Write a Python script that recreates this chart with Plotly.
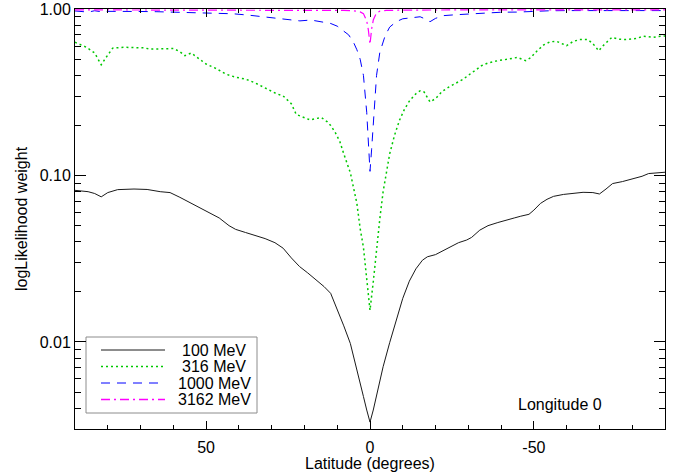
import math
import plotly.graph_objects as go

# ---------------- data ----------------
lat_100 = [90, 86, 84, 82, 80, 77, 72, 68, 64, 61, 58, 56, 53, 50, 46, 43, 41, 38, 35, 32, 29,
           26.5, 24, 21.5, 19, 16.5, 14, 12, 10, 8, 6, 4, 3, 2, 1, 0, -1, -2, -3, -4, -6, -8,
           -10, -12, -14, -16, -17.5, -20, -22, -24.5, -27, -29.5, -31, -33.5, -36, -39, -42,
           -44, -46, -48.5, -50, -52, -54, -56, -59, -62, -65, -68, -70, -72, -74, -77, -80,
           -83, -85, -88, -90]
w_100 = [0.0815, 0.080, 0.078, 0.0745, 0.079, 0.0823, 0.083, 0.0825, 0.080, 0.079, 0.074, 0.0705,
         0.066, 0.061, 0.0556, 0.050, 0.0475, 0.0455, 0.0435, 0.0418, 0.0395, 0.0366, 0.032,
         0.0284, 0.026, 0.0236, 0.0215, 0.0196, 0.0158, 0.0125, 0.0098, 0.0069, 0.0057, 0.0047,
         0.0039, 0.0033, 0.0039, 0.0048, 0.0058, 0.0071, 0.0099, 0.0136, 0.0183, 0.0232, 0.0275,
         0.031, 0.0325, 0.0335, 0.035, 0.0374, 0.0395, 0.041, 0.0425, 0.047, 0.050, 0.0522,
         0.0545, 0.0556, 0.057, 0.0585, 0.062, 0.068, 0.072, 0.075, 0.077, 0.078, 0.0793, 0.079,
         0.0775, 0.083, 0.0895, 0.092, 0.095, 0.099, 0.1028, 0.104, 0.1047]

lat_316 = [90, 88, 86.5, 84, 82, 80.5, 78.5, 75, 72, 69, 67, 64, 60, 58, 56.5, 54.5, 52, 50, 47,
           44, 41, 38, 35, 32, 28.5, 26.5, 24, 22.5, 20, 18.3, 16.5, 14.8, 13, 12, 10.5, 9.2, 8,
           6, 4, 3, 2, 1, 0, -1, -2, -2.5, -3, -4, -5, -6, -7.5, -9, -10.5, -12, -14, -15.3,
           -16.5, -18.3, -20, -22, -24, -26.5, -28.5, -30, -32, -34, -36, -39, -42, -45, -47.5,
           -49, -51, -53, -55, -57, -59, -60, -62, -64, -66.5, -68, -69.8, -71, -73.8, -76, -78,
           -81, -83.5, -86.5, -88, -90]
w_316 = [0.632, 0.61, 0.59, 0.545, 0.463, 0.513, 0.583, 0.59, 0.59, 0.585, 0.575, 0.578, 0.58,
         0.555, 0.525, 0.545, 0.50, 0.468, 0.44, 0.407, 0.39, 0.38, 0.36, 0.335, 0.31, 0.301,
         0.27, 0.233, 0.222, 0.216, 0.22, 0.223, 0.21, 0.20, 0.18, 0.16, 0.135, 0.104, 0.068,
         0.048, 0.037, 0.024, 0.0155, 0.023, 0.037, 0.045, 0.055, 0.08, 0.105, 0.135, 0.175,
         0.215, 0.25, 0.28, 0.31, 0.323, 0.318, 0.277, 0.29, 0.32, 0.34, 0.36, 0.38, 0.40, 0.43,
         0.457, 0.475, 0.49, 0.50, 0.513, 0.49, 0.51, 0.562, 0.61, 0.637, 0.64, 0.615, 0.603,
         0.64, 0.656, 0.656, 0.62, 0.562, 0.60, 0.677, 0.66, 0.656, 0.665, 0.687, 0.677, 0.685,
         0.69]

lat_1000 = [90, 88, 86, 84, 82, 80, 76, 70, 65, 60, 55, 50, 45, 41.8, 37, 32, 28, 25.5, 23, 21.4,
            18, 16.3, 14, 12, 10, 8.2, 6.5, 5, 4, 3, 2, 1, 0.3, 0, -0.5, -1.2, -2, -3, -4.6, -6,
            -8, -10, -13, -15.3, -17, -18.3, -20, -22.4, -26, -30, -35, -40, -45, -50, -55, -60,
            -70, -80, -90]
w_1000 = [0.975, 0.968, 0.96, 0.978, 0.965, 0.97, 0.972, 0.968, 0.965, 0.958, 0.958, 0.952, 0.943,
          0.938, 0.92, 0.895, 0.88, 0.87, 0.86, 0.85, 0.86, 0.85, 0.84, 0.82, 0.79, 0.74, 0.70,
          0.63, 0.57, 0.50, 0.40, 0.24, 0.144, 0.106, 0.144, 0.24, 0.40, 0.55, 0.69, 0.78, 0.84,
          0.875, 0.89, 0.90, 0.87, 0.84, 0.88, 0.914, 0.925, 0.937, 0.95, 0.958, 0.96, 0.972,
          0.978, 0.98, 0.98, 0.98, 0.98]

lat_3162 = [90, 60, 30, 15, 8, 5, 3, 2, 1, 0.5, 0, -0.5, -1, -2, -3, -5, -10, -30, -90]
w_3162 = [0.99, 0.99, 0.988, 0.985, 0.982, 0.978, 0.962, 0.94, 0.85, 0.75, 0.615, 0.76, 0.86,
          0.95, 0.972, 0.982, 0.986, 0.99, 0.99]

series_names = ["100 MeV", "316 MeV", "1000 MeV", "3162 MeV"]
series_lats = [lat_100, lat_316, lat_1000, lat_3162]
series_vals = [w_100, w_316, w_1000, w_3162]
series_colors = ["#1a1a1a", "#00c800", "#0000ff", "#ff00ff"]
series_dash = ["solid", "2px,3px", "9px,7px", "9px,4px,2px,4px"]
series_width = [1, 1.5, 1, 1.2]

x_ticks = [50, 0, -50]
x_ticktext = ["50", "0", "-50"]

FONT = "Liberation Sans, Arial, Helvetica, sans-serif"

fig = go.Figure()
for name, xs, ys, col, dash, w in zip(series_names, series_lats, series_vals,
                                      series_colors, series_dash, series_width):
    fig.add_trace(go.Scatter(x=xs, y=ys, mode="lines", name=name, showlegend=False,
                             hoverinfo="skip",
                             line=dict(color=col, dash=dash, width=w)))

# manual legend drawn on an overlay axis pair spanning the plot area
L, R, T, B = 75, 13, 9, 47
W, H = 678 - L - R, 476 - T - B
def px(x):
    return (x - L) / W
def py(y):
    return (476 - B - y) / H

legend_y = [350, 366.5, 383, 399.5]
legend_w = [1, 1.5, 1, 1.5]
for name, col, dash, w, yy in zip(series_names, series_colors, series_dash, legend_w, legend_y):
    fig.add_trace(go.Scatter(x=[px(101), px(165)], y=[py(yy), py(yy)], xaxis="x2", yaxis="y2",
                             mode="lines", showlegend=False, hoverinfo="skip",
                             line=dict(color=col, dash=dash, width=w)))

shapes = [dict(type="rect", xref="paper", yref="paper", x0=px(86), x1=px(257),
               y0=py(413), y1=py(337), line=dict(color="#8c8c8c", width=1),
               fillcolor="white", layer="below")]
annotations = []
for name, yy in zip(series_names, legend_y):
    annotations.append(dict(text=name, xref="paper", yref="paper", x=px(214), y=py(yy),
                            xanchor="center", yanchor="middle", showarrow=False,
                            font=dict(size=16, color="black", family=FONT)))
annotations.append(dict(text="Longitude 0", xref="paper", yref="paper", x=px(560), y=py(404),
                        xanchor="center", yanchor="middle", showarrow=False,
                        font=dict(size=16, color="black", family=FONT)))
annotations.append(dict(text="Latitude (degrees)", xref="paper", yref="paper", x=px(370), y=py(463),
                        xanchor="center", yanchor="middle", showarrow=False,
                        font=dict(size=16, color="black", family=FONT)))
annotations.append(dict(text="logLikelihood weight", xref="paper", yref="paper", x=px(21), y=py(219),
                        xanchor="center", yanchor="middle", showarrow=False, textangle=-90,
                        font=dict(size=16, color="black", family=FONT)))

fig.update_layout(
    width=678, height=476,
    margin=dict(l=L, r=R, t=T, b=B, pad=0, autoexpand=False),
    paper_bgcolor="white", plot_bgcolor="white",
    font=dict(family=FONT, size=16, color="black"),
    shapes=shapes, annotations=annotations,
    showlegend=False,
    xaxis2=dict(overlaying="x", range=[0, 1], visible=False, fixedrange=True),
    yaxis2=dict(overlaying="y", range=[0, 1], visible=False, fixedrange=True),
)
fig.layout.xaxis.update(
    range=[90, -90], showgrid=False, zeroline=False, automargin=False,
    showline=True, linecolor="black", linewidth=1, mirror="allticks",
    ticks="inside", ticklen=8, tickcolor="black", tickwidth=1,
    tickmode="array", tickvals=x_ticks, ticktext=x_ticktext,
    tickfont=dict(size=16, family=FONT), ticklabelstandoff=4,
    minor=dict(tickmode="linear", tick0=0, dtick=10, ticks="inside", ticklen=4,
               tickcolor="black", showgrid=False),
)
fig.layout.yaxis.update(
    type="log", range=[math.log10(0.003), 0.0008], showgrid=False, zeroline=False,
    automargin=False,
    showline=True, linecolor="black", linewidth=1, mirror="allticks",
    ticks="inside", ticklen=11, tickcolor="black", tickwidth=1,
    tickmode="linear", dtick=1, tickformat=".2f",
    tickfont=dict(size=16, family=FONT),
    minor=dict(dtick="D1", ticks="inside", ticklen=6, tickcolor="black", showgrid=False),
)

fig.write_html("out.html", config=dict(displayModeBar=False),
               post_script="document.body.style.margin='0';document.body.style.padding='0';")
